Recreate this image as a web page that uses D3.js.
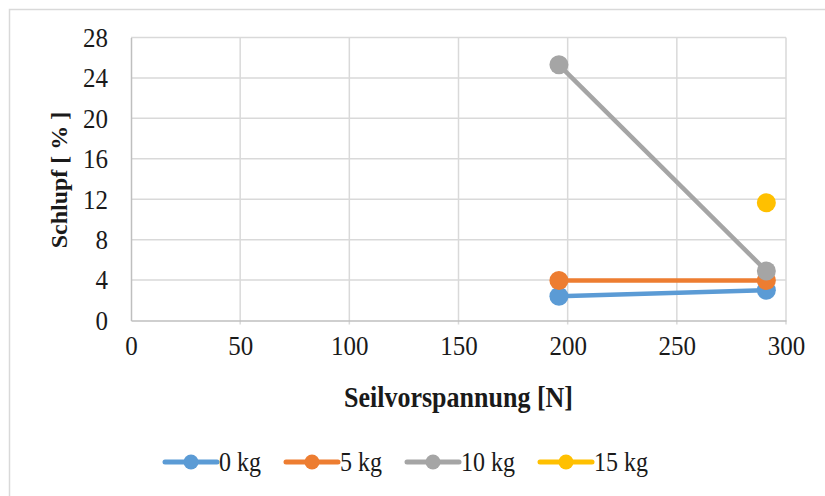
<!DOCTYPE html>
<html>
<head>
<meta charset="utf-8">
<script src="https://cdn.jsdelivr.net/npm/d3@7"></script>
<style>
  html, body { margin: 0; padding: 0; background: #fff; }
  svg text { font-family: "Liberation Serif", "Times New Roman", Times, serif !important; }
  svg text.st { transform-box: fill-box; transform-origin: center; transform: scaleY(1.1); }
</style>
</head>
<body>
<svg id="chart" width="825" height="496"></svg>
<script>
// ---- data ----
const seriesNames = ["0 kg", "5 kg", "10 kg", "15 kg"];
const seriesColors = ["#5b9bd5", "#ed7d31", "#a5a5a5", "#ffc000"];
const xValues0 = [196, 291];
const yValues0 = [2.4, 3.0];
const xValues5 = [196, 291];
const yValues5 = [3.95, 3.95];
const xValues10 = [196, 291];
const yValues10 = [25.3, 4.9];
const xValues15 = [291];
const yValues15 = [11.65];
const xTicks = [0, 50, 100, 150, 200, 250, 300];
const yTicks = [0, 4, 8, 12, 16, 20, 24, 28];
const xTitle = "Seilvorspannung [N]";
const yTitle = "Schlupf [ % ]";

const series = [
  { name: seriesNames[0], color: seriesColors[0], xs: xValues0, ys: yValues0 },
  { name: seriesNames[1], color: seriesColors[1], xs: xValues5, ys: yValues5 },
  { name: seriesNames[2], color: seriesColors[2], xs: xValues10, ys: yValues10 },
  { name: seriesNames[3], color: seriesColors[3], xs: xValues15, ys: yValues15 }
];

const svg = d3.select("#chart");

// outer chart border
svg.append("rect").attr("x", 9.5).attr("y", 9.5).attr("width", 830).attr("height", 500)
  .attr("fill", "none").attr("stroke", "#d9d9d9").attr("stroke-width", 1.5);

const x = d3.scaleLinear().domain([0, 300]).range([131, 786]);
const y = d3.scaleLinear().domain([0, 28]).range([320.5, 37.5]);

// gridlines
const grid = svg.append("g");
grid.selectAll("line.h").data(yTicks.filter(d => d > 0)).enter().append("line")
  .attr("x1", x(0)).attr("x2", x(300)).attr("y1", d => y(d)).attr("y2", d => y(d))
  .attr("stroke", "#d9d9d9").attr("stroke-width", 1.5);
grid.selectAll("line.v").data(xTicks.filter(d => d > 0)).enter().append("line")
  .attr("x1", d => x(d)).attr("x2", d => x(d)).attr("y1", y(0) + 4).attr("y2", y(28))
  .attr("stroke", "#d9d9d9").attr("stroke-width", 1.5);

// axes
const xAxis = d3.axisBottom(x).tickValues(xTicks).tickSize(0).tickPadding(16).tickFormat(d3.format("d"));
const gx = svg.append("g").attr("transform", `translate(0,${y(0)})`).call(xAxis);
gx.select(".domain").attr("stroke", "#bfbfbf").attr("stroke-width", 1.5);
gx.selectAll("text").attr("class", "st").attr("font-size", 25).attr("fill", "#1a1a1a").attr("dy", "0.71em");

const yAxis = d3.axisLeft(y).tickValues(yTicks).tickSize(0).tickPadding(23).tickFormat(d3.format("d"));
const gy = svg.append("g").attr("transform", `translate(${x(0)},0)`).call(yAxis);
gy.select(".domain").attr("stroke", "#bfbfbf").attr("stroke-width", 1.5);
gy.selectAll("text").attr("class", "st").attr("font-size", 25).attr("fill", "#1a1a1a");

// axis titles
svg.append("text").attr("class", "st").attr("x", (x(0) + x(300)) / 2).attr("y", 406)
  .attr("text-anchor", "middle").attr("font-size", 26).attr("font-weight", "bold")
  .attr("fill", "#1a1a1a").text(xTitle);
svg.append("text").attr("transform", `translate(67,${(y(0) + y(28)) / 2 + 1}) rotate(-90)`)
  .attr("text-anchor", "middle").attr("font-size", 24).attr("font-weight", "bold")
  .attr("fill", "#1a1a1a").text(yTitle);

// series
const line = d3.line().x(d => x(d[0])).y(d => y(d[1]));
const plot = svg.append("g");
series.forEach(s => {
  const pts = s.xs.map((xv, i) => [xv, s.ys[i]]);
  if (pts.length > 1) {
    plot.append("path").datum(pts).attr("d", line).attr("fill", "none")
      .attr("stroke", s.color).attr("stroke-width", 4.5).attr("stroke-linejoin", "round");
  }
});
series.forEach(s => {
  const pts = s.xs.map((xv, i) => [xv, s.ys[i]]);
  plot.selectAll(null).data(pts).enter().append("circle")
    .attr("cx", d => x(d[0])).attr("cy", d => y(d[1])).attr("r", 9.5).attr("fill", s.color);
});

// legend
const legendX = [165, 286, 407, 540];
const legend = svg.append("g");
series.forEach((s, i) => {
  const g = legend.append("g").attr("transform", `translate(${legendX[i]},462)`);
  g.append("line").attr("x1", 0).attr("x2", 52).attr("y1", 0).attr("y2", 0)
    .attr("stroke", s.color).attr("stroke-width", 5).attr("stroke-linecap", "round");
  g.append("circle").attr("cx", 26).attr("cy", 0).attr("r", 7.5).attr("fill", s.color);
  g.append("text").attr("class", "st").attr("x", 54).attr("y", 8).attr("font-size", 24).attr("fill", "#1a1a1a")
    .text(s.name);
});
</script>
</body>
</html>
